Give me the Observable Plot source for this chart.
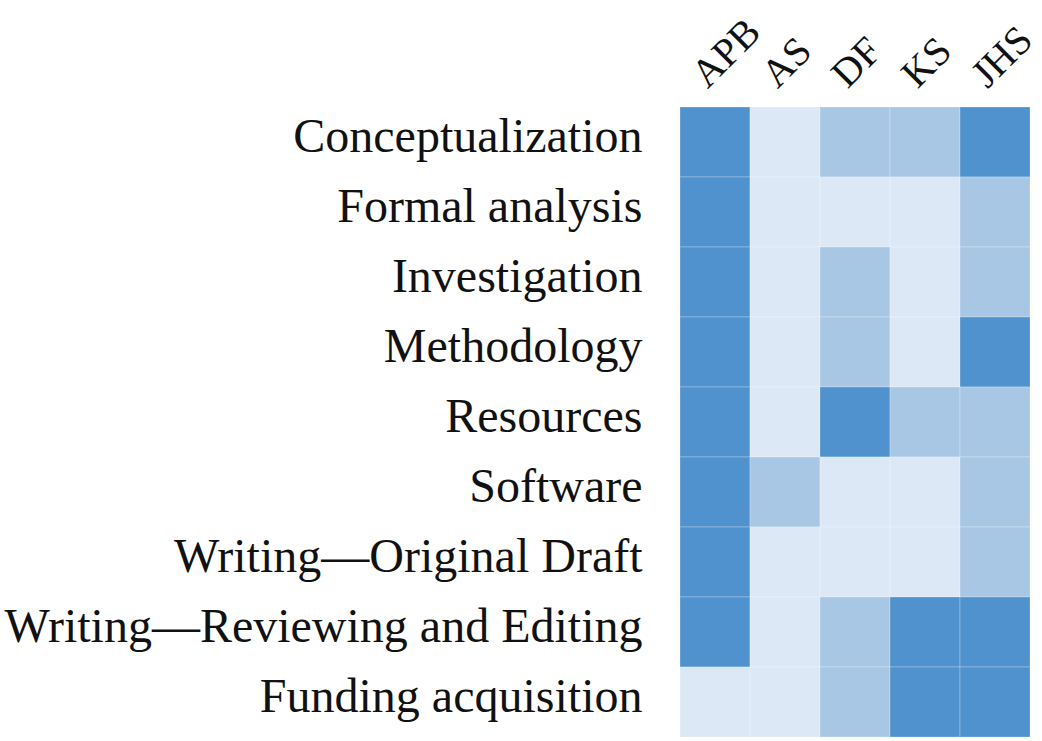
<!DOCTYPE html>
<html>
<head>
<meta charset="utf-8">
<script src="https://cdn.jsdelivr.net/npm/d3@7"></script>
<script src="https://cdn.jsdelivr.net/npm/@observablehq/plot@0.6"></script>
<style>
  html, body { margin: 0; padding: 0; background: #fff; }
</style>
</head>
<body>
<div id="chart"></div>
<script>
const people = ["APB", "AS", "DF", "KS", "JHS"];
const roles = [
  "Conceptualization",
  "Formal analysis",
  "Investigation",
  "Methodology",
  "Resources",
  "Software",
  "Writing—Original Draft",
  "Writing—Reviewing and Editing",
  "Funding acquisition"
];
// 0 = none, 1 = supporting, 2 = lead (rows follow roles, columns follow people)
const levels = [
  [2, 0, 1, 1, 2],
  [2, 0, 0, 0, 1],
  [2, 0, 1, 0, 1],
  [2, 0, 1, 0, 2],
  [2, 0, 2, 1, 1],
  [2, 1, 0, 0, 1],
  [2, 0, 0, 0, 1],
  [2, 0, 1, 2, 2],
  [0, 0, 1, 2, 2]
];
const levelDomain = [0, 1, 2];
const levelColors = ["#dce8f5", "#a7c7e5", "#4f92ce"];

const table = [];
roles.forEach((r, i) => people.forEach((p, j) => table.push({role: r, person: p, level: levels[i][j]})));

const font = "'Liberation Serif', 'DejaVu Serif', serif";

const chart = Plot.plot({
  width: 1042,
  height: 741,
  marginLeft: 679,
  marginRight: 12,
  marginTop: 106,
  marginBottom: 4,
  style: {fontFamily: font, fontSize: "47px", color: "#111", background: "#fff"},
  x: {domain: people, padding: 0, axis: null},
  y: {domain: roles, padding: 0, axis: null},
  color: {type: "ordinal", domain: levelDomain, range: levelColors},
  marks: [
    Plot.cell(table, {x: "person", y: "role", fill: "level", stroke: "#ffffff", strokeOpacity: 0.25, strokeWidth: 1}),
    Plot.text(roles, {y: d => d, frameAnchor: "left", dx: -37, dy: -6, textAnchor: "end", fontSize: 48, fill: "#111"}),
    Plot.text(people, {x: d => d, frameAnchor: "top", dy: -17, dx: -8, rotate: -45, textAnchor: "start", lineAnchor: "bottom", fontSize: 40, fill: "#111"})
  ]
});
document.getElementById("chart").appendChild(chart);
</script>
</body>
</html>
